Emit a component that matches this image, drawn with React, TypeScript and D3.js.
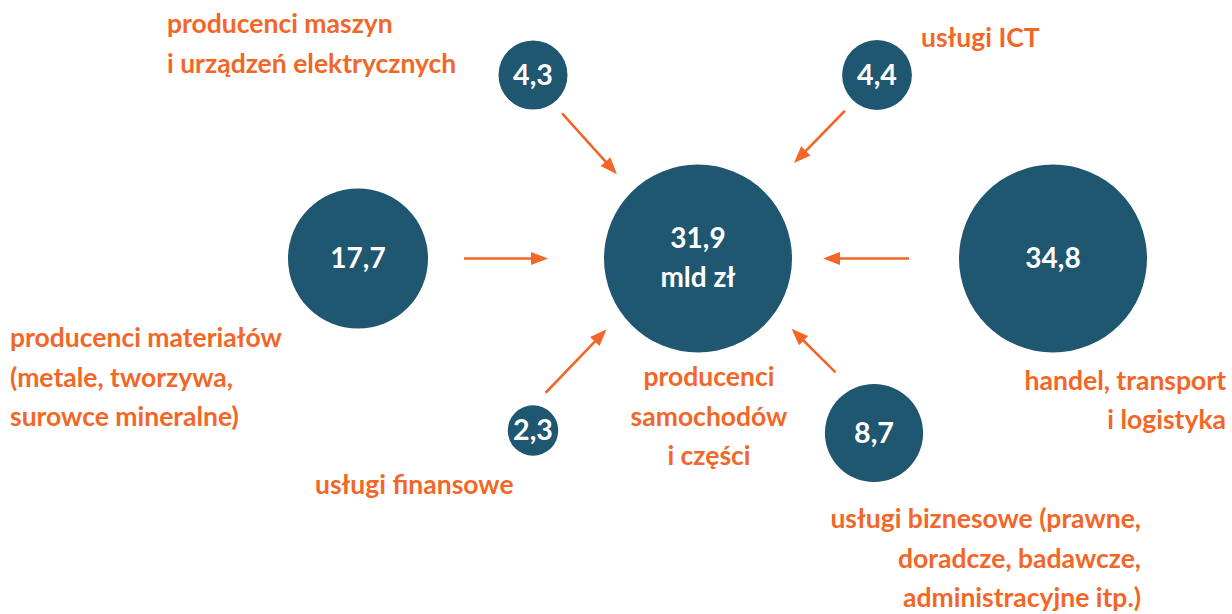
import React from "react";
import * as d3 from "d3";

// ---- data ----
const hubValue = 31.9;
const hubUnit = "mld zł";
const hubLabel = ["producenci", "samochodów", "i części"];

const sectorNames: string[][] = [
  ["producenci maszyn", "i urządzeń elektrycznych"],
  ["usługi ICT"],
  ["producenci materiałów", "(metale, tworzywa,", "surowce mineralne)"],
  ["handel, transport", "i logistyka"],
  ["usługi finansowe"],
  ["usługi biznesowe (prawne,", "doradcze, badawcze,", "administracyjne itp.)"],
];
const sectorValues = [4.3, 4.4, 17.7, 34.8, 2.3, 8.7];

// ---- layout ----
const W = 1232;
const H = 614;
const hubPos = { x: 698, y: 258.5 };
const nodePos = [
  { x: 533, y: 75 },
  { x: 877, y: 75 },
  { x: 358, y: 258.5 },
  { x: 1053, y: 258.5 },
  { x: 533, y: 430.5 },
  { x: 874, y: 433 },
];
const arrowGeom = [
  { d0: 48, d1: 130, shift: -4 },
  { d0: 48, d1: 121, shift: 2 },
  { d0: 106, d1: 190, shift: 0 },
  { d0: 144, d1: 230, shift: 0 },
  { d0: 36, d1: 124, shift: 17 },
  { d0: 70, d1: 132, shift: -16 },
];
const labelGeom = [
  { x: 167, y: 33, anchor: "start" },
  { x: 921, y: 47, anchor: "start" },
  { x: 10, y: 347, anchor: "start" },
  { x: 1226, y: 389.5, anchor: "end" },
  { x: 315, y: 494, anchor: "start" },
  { x: 1141, y: 528, anchor: "end" },
];
const hubLabelGeom = { x: 709, y: 386, anchor: "middle" };

const TEAL = "#1f5670";
const ORANGE = "#f26727";
const FONT = "Lato, 'Open Sans', sans-serif";
const LABEL_SIZE = 26.5;
const LINE_H = 39.5;
const VALUE_SIZE = 28;

const locale = d3.formatLocale({ decimal: ",", thousands: " ", grouping: [3], currency: ["", " zł"] });
const fmt = locale.format(".1f");

const rScale = d3.scaleSqrt().domain([0, hubValue]).range([0, 94]).clamp(true);

function arrowPath(i: number) {
  const s = nodePos[i];
  const g = arrowGeom[i];
  const dx = hubPos.x - s.x;
  const dy = hubPos.y - s.y;
  const len = Math.hypot(dx, dy);
  const ux = dx / len;
  const uy = dy / len;
  const px = uy * g.shift;
  const py = -ux * g.shift;
  const tail = [s.x + ux * g.d0 + px, s.y + uy * g.d0 + py];
  const tip = [s.x + ux * g.d1 + px, s.y + uy * g.d1 + py];
  const headL = 17;
  const headW = 6.5;
  const base = [tip[0] - ux * headL, tip[1] - uy * headL];
  const line = d3.line()([tail as [number, number], [base[0] + ux * 1, base[1] + uy * 1]]) || "";
  const head =
    d3.line()([
      tip as [number, number],
      [base[0] - uy * headW, base[1] + ux * headW],
      [base[0] + uy * headW, base[1] - ux * headW],
    ]) + "Z";
  return { line, head };
}

function MultiLine({ lines, x, y, anchor }: { lines: string[]; x: number; y: number; anchor: string }) {
  return (
    <text
      x={x}
      y={y}
      textAnchor={anchor as any}
      fill={ORANGE}
      fontFamily={FONT}
      fontWeight={700}
      fontSize={LABEL_SIZE}
    >
      {lines.map((l, k) => (
        <tspan key={k} x={x} y={y + k * LINE_H}>
          {l}
        </tspan>
      ))}
    </text>
  );
}

export default function App() {
  const hubR = rScale(hubValue);
  return (
    <svg
      width={W}
      height={H}
      viewBox={`0 0 ${W} ${H}`}
      style={{ position: "absolute", left: 0, top: 0, background: "#fff" }}
    >
      {/* arrows */}
      {sectorValues.map((_, i) => {
        const a = arrowPath(i);
        return (
          <g key={"a" + i}>
            <path d={a.line} stroke={ORANGE} strokeWidth={2.6} fill="none" />
            <path d={a.head} fill={ORANGE} />
          </g>
        );
      })}

      {/* hub */}
      <circle cx={hubPos.x} cy={hubPos.y} r={hubR} fill={TEAL} />
      <text
        x={hubPos.x}
        textAnchor="middle"
        fill="#fff"
        fontFamily={FONT}
        fontWeight={700}
        fontSize={VALUE_SIZE}
      >
        <tspan x={hubPos.x} y={hubPos.y - 11}>
          {fmt(hubValue)}
        </tspan>
        <tspan x={hubPos.x} y={hubPos.y + 28}>
          {hubUnit}
        </tspan>
      </text>
      <MultiLine lines={hubLabel} x={hubLabelGeom.x} y={hubLabelGeom.y} anchor={hubLabelGeom.anchor} />

      {/* sector nodes */}
      {sectorValues.map((v, i) => {
        const r = rScale(v);
        const p = nodePos[i];
        const small = r < 60;
        return (
          <g key={"n" + i}>
            <circle cx={p.x} cy={p.y} r={r} fill={TEAL} />
            <text
              x={p.x}
              y={p.y + 9.8}
              textAnchor="middle"
              fill="#fff"
              fontFamily={FONT}
              fontWeight={700}
              fontSize={VALUE_SIZE}
              {...(small ? { textLength: 40, lengthAdjust: "spacingAndGlyphs" } : {})}
            >
              {fmt(v)}
            </text>
            <MultiLine
              lines={sectorNames[i]}
              x={labelGeom[i].x}
              y={labelGeom[i].y}
              anchor={labelGeom[i].anchor}
            />
          </g>
        );
      })}
    </svg>
  );
}
